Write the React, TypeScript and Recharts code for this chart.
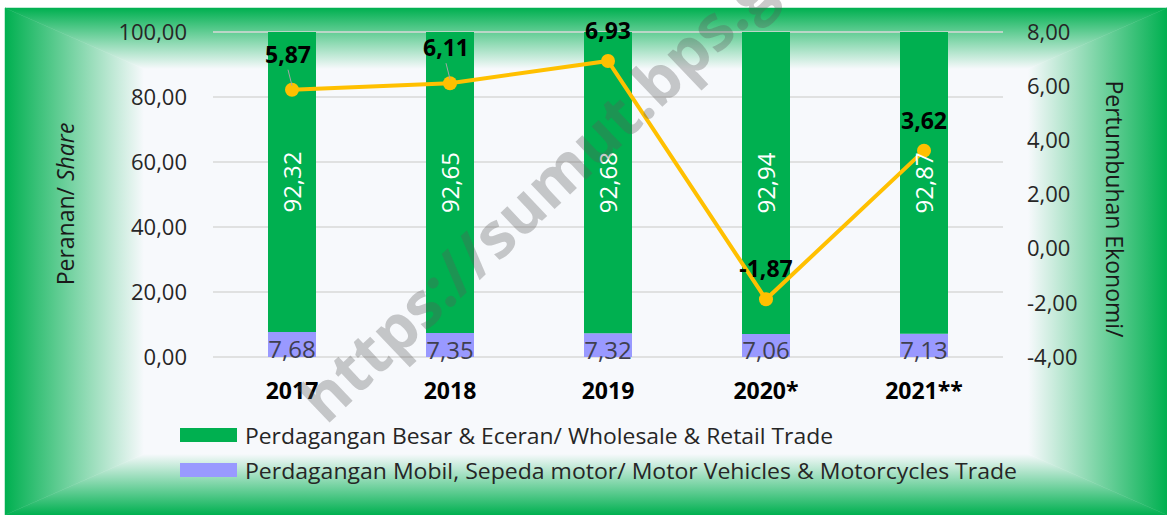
import React from "react";
import {
  ComposedChart,
  Bar,
  Line,
  XAxis,
  YAxis,
  CartesianGrid,
  LabelList,
} from "recharts";

const years = ["2017", "2018", "2019", "2020*", "2021**"];
const wholesale = [92.32, 92.65, 92.68, 92.94, 92.87];
const motor = [7.68, 7.35, 7.32, 7.06, 7.13];
const growth = [5.87, 6.11, 6.93, -1.87, 3.62];
const shareTicks = [0, 20, 40, 60, 80, 100];
const growthTicks = [-4, -2, 0, 2, 4, 6, 8];

const legendNames = [
  "Perdagangan Besar & Eceran/ Wholesale & Retail Trade",
  "Perdagangan Mobil, Sepeda motor/ Motor Vehicles & Motorcycles Trade",
];

const GREEN = "#00b050";
const PURPLE = "#9999ff";
const GOLD = "#ffc000";
const CENTRE = "#f7f9fc";
const FONT = "'Open Sans', 'Noto Sans', sans-serif";

const data = years.map((year, i) => ({
  year,
  wholesale: wholesale[i],
  motor: motor[i],
  growth: growth[i],
}));

const fmt = (v: number) => v.toFixed(2).replace(".", ",");

function box(props: any) {
  const vb = props.viewBox || {};
  return {
    x: props.x ?? vb.x ?? 0,
    y: props.y ?? vb.y ?? 0,
    width: props.width ?? vb.width ?? 0,
    height: props.height ?? vb.height ?? 0,
  };
}

function WholesaleLabel(props: any) {
  const { x, y, width, height } = box(props);
  const cx = x + width / 2;
  const cy = y + height / 2;
  return (
    <text
      x={cx}
      y={cy}
      transform={`rotate(-90 ${cx} ${cy})`}
      textAnchor="middle"
      dominantBaseline="central"
      fill="#fff"
      fontSize={24}
      fontWeight={500}
      fontFamily={FONT}
    >
      {fmt(Number(props.value))}
    </text>
  );
}

function MotorLabel(props: any) {
  const { x, y, width, height } = box(props);
  return (
    <text
      x={x + width / 2}
      y={y + height / 2 + 4}
      textAnchor="middle"
      dominantBaseline="central"
      fill="#3f3f4f"
      fontSize={24}
      fontFamily={FONT}
    >
      {fmt(Number(props.value))}
    </text>
  );
}

function GrowthLabel(props: any) {
  const { x, y } = box(props);
  const lead = props.index < 2;
  const lift = lead ? 36 : 31;
  return (
    <g>
      {lead && (
        <line x1={x - 4} y1={y - 20} x2={x} y2={y - 4} stroke="#a6a6a6" strokeWidth={1} />
      )}
      <text
        x={lead ? x - 4 : x}
        y={y - lift}
        textAnchor="middle"
        dominantBaseline="central"
        fill="#000"
        fontSize={23}
        fontWeight={700}
        fontFamily={FONT}
      >
        {fmt(Number(props.value))}
      </text>
    </g>
  );
}

// green frame fading to a pale centre, like a rectangular path gradient
function Backdrop() {
  const x0 = 5, y0 = 8, w = 1162, h = 507;
  const dx = 139, dy = 61;
  const x1 = x0 + w, y1 = y0 + h;
  return (
    <svg width={1167} height={515} style={{ position: "absolute", left: 0, top: 0 }}>
      <defs>
        <linearGradient id="gTop" gradientUnits="userSpaceOnUse" x1={0} y1={y0} x2={0} y2={y0 + dy}>
          <stop offset="0" stopColor={GREEN} />
          <stop offset="1" stopColor={CENTRE} />
        </linearGradient>
        <linearGradient id="gBottom" gradientUnits="userSpaceOnUse" x1={0} y1={y1} x2={0} y2={y1 - dy}>
          <stop offset="0" stopColor={GREEN} />
          <stop offset="1" stopColor={CENTRE} />
        </linearGradient>
        <linearGradient id="gLeft" gradientUnits="userSpaceOnUse" x1={x0} y1={0} x2={x0 + dx} y2={0}>
          <stop offset="0" stopColor={GREEN} />
          <stop offset="1" stopColor={CENTRE} />
        </linearGradient>
        <linearGradient id="gRight" gradientUnits="userSpaceOnUse" x1={x1} y1={0} x2={x1 - dx} y2={0}>
          <stop offset="0" stopColor={GREEN} />
          <stop offset="1" stopColor={CENTRE} />
        </linearGradient>
      </defs>
      <rect x={x0 + dx - 1} y={y0 + dy - 1} width={w - 2 * dx + 2} height={h - 2 * dy + 2} fill={CENTRE} />
      <polygon points={`${x0},${y0} ${x1},${y0} ${x1 - dx},${y0 + dy} ${x0 + dx},${y0 + dy}`} fill="url(#gTop)" stroke="url(#gTop)" strokeWidth={0.5} />
      <polygon points={`${x0},${y1} ${x1},${y1} ${x1 - dx},${y1 - dy} ${x0 + dx},${y1 - dy}`} fill="url(#gBottom)" stroke="url(#gBottom)" strokeWidth={0.5} />
      <polygon points={`${x0},${y0} ${x0 + dx},${y0 + dy} ${x0 + dx},${y1 - dy} ${x0},${y1}`} fill="url(#gLeft)" stroke="url(#gLeft)" strokeWidth={0.5} />
      <polygon points={`${x1},${y0} ${x1 - dx},${y0 + dy} ${x1 - dx},${y1 - dy} ${x1},${y1}`} fill="url(#gRight)" stroke="url(#gRight)" strokeWidth={0.5} />
    </svg>
  );
}

export default function App() {
  return (
    <div style={{ position: "fixed", left: 0, top: 0, width: 1167, height: 515, background: "#fff", overflow: "hidden" }}>
      <Backdrop />

      <div style={{ position: "absolute", left: 0, top: 0 }}>
        <ComposedChart
          width={1167}
          height={515}
          data={data}
          margin={{ top: 32, right: 64, bottom: 118, left: 113 }}
        >
          <CartesianGrid yAxisId="left" vertical={false} stroke="#d9d9d9" strokeWidth={1.5} />
          <XAxis
            dataKey="year"
            axisLine={false}
            tickLine={false}
            height={40}
            tickMargin={20}
            tick={{ fontSize: 23, fontWeight: 700, fill: "#000", fontFamily: FONT }}
          />
          <YAxis
            yAxisId="left"
            width={100}
            domain={[0, 100]}
            ticks={shareTicks}
            tickFormatter={fmt}
            axisLine={false}
            tickLine={false}
            tickMargin={20}
            tick={{ fontSize: 22, fill: "#262626", fontFamily: FONT }}
          />
          <YAxis
            yAxisId="right"
            orientation="right"
            width={100}
            domain={[-4, 8]}
            ticks={growthTicks}
            tickFormatter={fmt}
            axisLine={false}
            tickLine={false}
            tickMargin={18}
            tick={{ fontSize: 22, fill: "#262626", fontFamily: FONT }}
          />
          <Bar yAxisId="left" dataKey="motor" stackId="share" fill={PURPLE} barSize={48} isAnimationActive={false}>
            <LabelList dataKey="motor" content={<MotorLabel />} />
          </Bar>
          <Bar yAxisId="left" dataKey="wholesale" stackId="share" fill={GREEN} barSize={48} isAnimationActive={false}>
            <LabelList dataKey="wholesale" content={<WholesaleLabel />} />
          </Bar>
          <Line
            yAxisId="right"
            dataKey="growth"
            stroke={GOLD}
            strokeWidth={4}
            dot={{ r: 7, fill: GOLD, stroke: GOLD, strokeWidth: 0 }}
            activeDot={false}
            isAnimationActive={false}
          >
            <LabelList dataKey="growth" content={<GrowthLabel />} />
          </Line>
        </ComposedChart>
      </div>

      {/* axis titles, legend, watermark */}
      <svg width={1167} height={515} style={{ position: "absolute", left: 0, top: 0, pointerEvents: "none" }}>
        <text
          x={65}
          y={204}
          transform="rotate(-90 65 204)"
          textAnchor="middle"
          dominantBaseline="central"
          fontSize={23}
          fill="#1a1a1a"
          fontFamily={FONT}
        >
          Peranan/ <tspan fontStyle="italic">Share</tspan>
        </text>
        <text
          x={1115}
          y={209}
          transform="rotate(90 1115 209)"
          textAnchor="middle"
          dominantBaseline="central"
          fontSize={23}
          fill="#1a1a1a"
          fontFamily={FONT}
        >
          Pertumbuhan Ekonomi/
        </text>

        {legendNames.map((name, i) => (
          <g key={name}>
            <rect x={180} y={428 + i * 35} width={57} height={14} fill={i === 0 ? GREEN : PURPLE} />
            <text
              x={245}
              y={435 + i * 35}
              dominantBaseline="central"
              fontSize={22}
              fill="#262626"
              fontFamily={FONT}
              textLength={i === 0 ? 588 : 772}
              lengthAdjust="spacingAndGlyphs"
            >
              {name}
            </text>
          </g>
        ))}

        <text
          x={326}
          y={426}
          transform="rotate(-43.5 326 426)"
          fontSize={63}
          fontWeight={700}
          fill="rgba(90,90,90,0.32)"
          fontFamily={FONT}
        >
          https://sumut.bps.go.id
        </text>
      </svg>
    </div>
  );
}
